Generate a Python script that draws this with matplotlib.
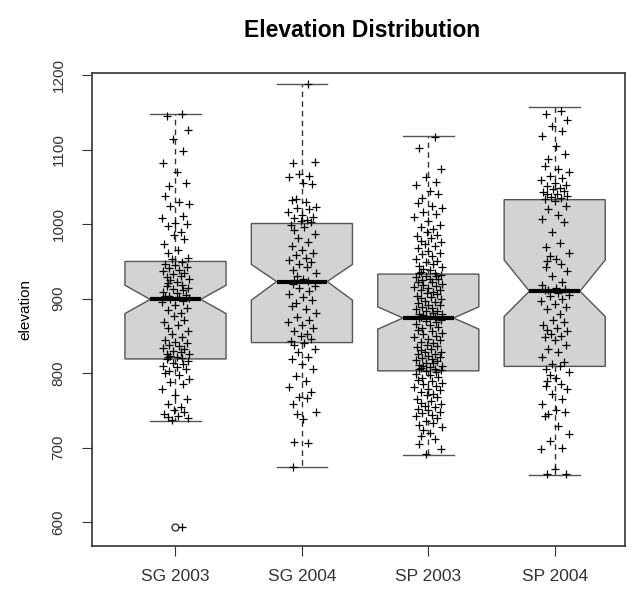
import matplotlib as mpl
mpl.use('Agg')
import matplotlib.pyplot as plt

plt.rcParams['font.family'] = ['Liberation Sans', 'DejaVu Sans']

groups = ["SG 2003", "SG 2004", "SP 2003", "SP 2004"]

# box statistics
medians = [899, 923, 874, 910]
q1 = [819, 841, 803, 809]
q3 = [950, 1001, 933, 1033]
notch_lo = [880, 898, 859, 876]
notch_hi = [918, 946, 889, 952]
whisk_lo = [736, 674, 690, 663]
whisk_hi = [1148, 1189, 1118, 1157]
outliers = [[593], [], [], []]

# elevations of the individual observations (estimated)
sg2003 = [1148, 1146, 1127, 1114, 1098, 1082, 1070, 1056, 1052, 1038, 1030, 1027, 1025, 1011,
          1009, 1002, 1000, 997, 989, 986, 980, 973, 966, 962, 955, 953,
          949, 947, 945, 943, 941, 939, 937, 935, 933, 931, 929, 927, 925, 923, 921, 919, 917,
          915, 913, 911, 909, 907, 905, 904, 903, 902, 901, 900,
          897, 895, 892, 888, 885, 881, 877, 872, 868, 864, 860, 856, 852, 848, 845, 842, 840,
          838, 836, 834, 832, 830, 828, 826, 825, 823, 822, 821, 820, 819,
          816, 814, 812, 810, 808, 806, 803, 800, 797, 792, 788, 785, 778, 770, 765, 758, 755,
          751, 748, 745, 743, 741, 739, 737, 593]
sg2004 = [1188, 1082, 1083, 1067, 1065, 1064, 1056, 1054, 1034, 1032, 1030, 1023, 1022, 1021,
          1017, 1012, 1010, 1008, 1006, 1004, 1003,
          999, 996, 992, 987, 982, 976, 971, 966, 962, 958, 955, 952, 949, 946, 942, 938, 934,
          930, 927, 925, 924,
          920, 917, 914, 910, 906, 902, 898, 894, 890, 886, 881, 876, 872, 868, 864, 860, 857,
          853, 850, 846, 843, 841,
          838, 832, 828, 822, 819, 812, 805, 796, 790, 781, 775, 768, 766, 758, 748, 745, 738,
          708, 706, 674]
sp2003 = [1117, 1103, 1074, 1063, 1057, 1053, 1045, 1040, 1035, 1028, 1024, 1022, 1017, 1014,
          1010, 1005, 999, 996, 993, 990, 986, 984, 982, 978, 976, 973, 971, 968, 964, 962, 960,
          957, 953, 951, 949, 946, 944, 942, 940, 938, 936, 935, 934,
          932, 931, 930, 929, 927, 926, 925, 923, 922, 920, 919, 917, 916, 914, 912, 911, 909,
          907, 906, 904, 902, 901, 899, 897, 896, 894, 892, 891, 889, 887, 886, 884, 883, 881,
          880, 879, 878, 877, 876, 875, 874,
          872, 870, 868, 866, 864, 862, 860, 858, 856, 854, 852, 850, 848, 846, 844, 842, 840,
          838, 836, 835, 833, 831, 829, 828, 826, 825, 823, 822, 820, 819, 817, 816, 814, 813,
          811, 810, 809, 808, 807, 806, 805, 804, 803,
          801, 799, 797, 795, 793, 791, 789, 787, 785, 783, 781, 779, 777, 775, 772, 770, 768,
          765, 763, 760, 758, 756, 754, 752, 750, 748, 746, 744, 742, 739, 736, 733, 730, 727,
          724, 720, 716, 712, 705, 698, 691]
sp2004 = [1152, 1148, 1140, 1132, 1125, 1118, 1105, 1095, 1088, 1078, 1074, 1070, 1065, 1062,
          1060, 1056, 1053, 1051, 1049, 1047, 1045, 1043, 1041, 1040, 1038, 1036, 1035, 1034,
          1031, 1025, 1020, 1012, 1007, 1003, 990, 975, 969, 962, 957, 953, 950, 946, 942, 937,
          930, 922, 918, 915, 913, 912, 911,
          908, 905, 903, 900, 897, 893, 889, 886, 880, 872, 868, 864, 861, 858, 856, 853, 850,
          848, 845, 838, 832, 828, 822, 815, 812, 810,
          806, 801, 797, 793, 789, 786, 782, 778, 772, 765, 758, 751, 748, 745, 742, 729, 718,
          709, 700, 698, 671, 665, 664]
points = [sg2003, sg2004, sp2003, sp2004]

# horizontal jitter offsets of the points (estimated, reused in turn)
jitter = [0.05, -0.07, 0.1, -0.02, 0.06, -0.1, 0.01, 0.08, -0.05, -0.08, 0.03, 0.11, -0.04,
          0.06, -0.11, 0.0, 0.09, -0.06, 0.04, -0.01, 0.07, -0.09, 0.02, -0.06, 0.1, -0.03,
          0.05, -0.08, 0.0, 0.09, -0.05, 0.03, -0.1, 0.07, -0.02, 0.04, -0.07, 0.11, -0.04,
          0.01, -0.06]

stats = []
for i, name in enumerate(groups):
    stats.append({
        "label": name, "med": medians[i], "q1": q1[i], "q3": q3[i],
        "cilo": notch_lo[i], "cihi": notch_hi[i],
        "whislo": whisk_lo[i], "whishi": whisk_hi[i], "fliers": outliers[i],
    })

fig = plt.figure(figsize=(6.35, 5.9), dpi=100)
ax = fig.add_axes([0.145, 0.075, 0.84, 0.801])

edge = "#555555"
positions = [1, 2, 3, 4]
ax.bxp(stats, positions=positions, widths=0.8, shownotches=True, patch_artist=True,
       capwidths=0.4,
       boxprops=dict(facecolor="#d3d3d3", edgecolor=edge, linewidth=1),
       medianprops=dict(color="black", linewidth=3, solid_capstyle="butt"),
       whiskerprops=dict(color="#333333", linestyle=(0, (4, 3)), linewidth=1),
       capprops=dict(color=edge, linewidth=1),
       flierprops=dict(marker="o", markerfacecolor="none", markeredgecolor="#333333",
                       markersize=5))

for i, vals in enumerate(points):
    xs = [positions[i] + jitter[k % len(jitter)] for k in range(len(vals))]
    ax.plot(xs, vals, linestyle="none", marker="+", color="black", markersize=6,
            markeredgewidth=0.9, zorder=5)

ax.set_xlim(0.34, 4.56)
ax.set_ylim(568, 1203)
ax.set_yticks([600, 700, 800, 900, 1000, 1100, 1200])
ax.set_xticks(positions)
ax.set_xticklabels(groups, fontsize=12.5)
ax.tick_params(axis="y", labelsize=11, length=7, pad=12, rotation=90, color="#333333",
               labelcolor="#333333")
ax.tick_params(axis="x", length=7, pad=10, color="#333333", labelcolor="#333333")
for lab in ax.get_yticklabels():
    lab.set_verticalalignment("center")
for sp in ax.spines.values():
    sp.set_color("#333333")
    sp.set_linewidth(1.2)

ax.set_ylabel("elevation", fontsize=11, labelpad=14)
fig.suptitle("Elevation Distribution", fontsize=16.5, fontweight="bold", x=0.57, y=0.968)

fig.savefig("out.png")
plt.close()
